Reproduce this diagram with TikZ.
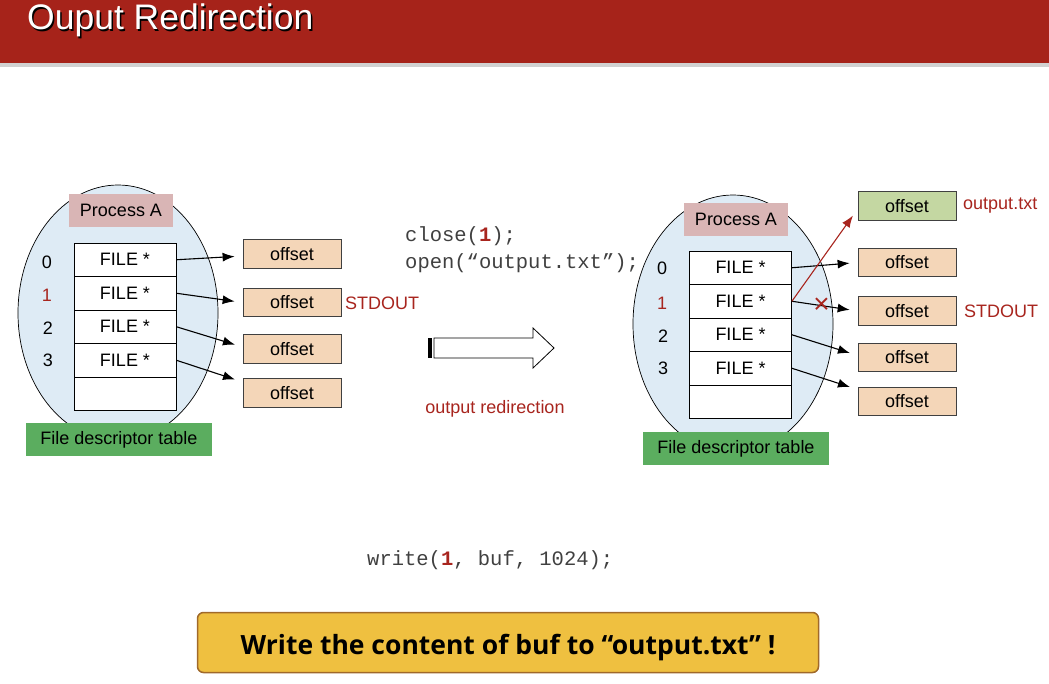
\documentclass[tikz,border=0pt]{standalone}
\usepackage{fontspec}
\setmainfont{Liberation Sans}
\newfontfamily\codefont{Liberation Mono}
\newfontfamily\notefont{Open Sans}
\usetikzlibrary{positioning, arrows.meta}

\definecolor{titlered}{HTML}{A6231A}
\definecolor{fdred}{HTML}{A8251E}
\definecolor{fdblue}{HTML}{DEEBF5}
\definecolor{procpink}{HTML}{D9B5B5}
\definecolor{offpeach}{HTML}{F4D6B8}
\definecolor{offgreen}{HTML}{C4D7A2}
\definecolor{tabgreen}{HTML}{5BAD5F}
\definecolor{noteyellow}{HTML}{EFC040}
\definecolor{notebrown}{HTML}{A0692A}
\definecolor{codegray}{HTML}{404040}

\tikzset{
    lbl/.style={font=\fontsize{18}{21}\selectfont},
    fdrow/.style={draw, fill=white, line width=0.8pt, minimum width=102pt,
        minimum height=33.5pt, inner sep=0pt, lbl},
    offbox/.style={draw=black!75, fill=offpeach, line width=0.8pt,
        minimum width=98pt, minimum height=28.5pt, inner sep=0pt, lbl},
    procbox/.style={fill=procpink, minimum width=104pt, minimum height=33pt,
        inner sep=0pt, lbl},
    tabbox/.style={fill=tabgreen, minimum width=186pt, minimum height=33pt,
        inner sep=0pt, lbl},
    ptr/.style={-{Latex[length=12pt, width=9pt]}, line width=1.1pt, shorten >=8pt},
    code/.style={anchor=west, text=codegray, inner sep=0pt,
        font=\codefont\fontsize{20.5}{24}\selectfont},
}
\newcommand{\redone}{\textcolor{fdred}{\bfseries 1}}

\begin{document}
\begin{tikzpicture}[x=1pt, y=-1pt]
    \useasboundingbox (0,0) rectangle (1049,683);
    \fill[white] (0,0) rectangle (1049,683);

    % 1. Title bar
    \fill[black!18] (0,63) rectangle (1049,67);
    \fill[titlered] (0,0) rectangle (1049,63);
    \node[anchor=west, inner sep=0pt, text=black, font=\fontsize{35.5}{40}\selectfont]
        at (28.5,22) {Ouput Redirection};
    \node[anchor=west, inner sep=0pt, text=white, font=\fontsize{35.5}{40}\selectfont]
        (title) at (27,20.5) {Ouput Redirection};

    % 2. Left process
    \draw[fill=fdblue, line width=0.7pt] (118,313) ellipse [x radius=100, y radius=128];
    \node[procbox] (lproc) at (121,210.5) {Process A};
    \foreach \i/\y in {0/259.75, 1/293.25, 2/326.75, 3/360.25} {
        \node[fdrow] (l\i) at (125,\y) {FILE *};
    }
    \node[fdrow] (l4) at (125,393.75) {};
    \node[lbl] (ln0) at (47,262) {0};
    \node[lbl, text=fdred] (ln1) at (47,295) {1};
    \node[lbl] (ln2) at (48,328) {2};
    \node[lbl] (ln3) at (48,360) {3};
    \node[tabbox] (ltab) at (119,439.5) {File descriptor table};

    \node[offbox] (lo0) at (292,254) {offset};
    \node[offbox] (lo1) at (292,302.5) {offset};
    \node[offbox] (lo2) at (292,349) {offset};
    \node[offbox] (lo3) at (292,393) {offset};
    \node[lbl, text=fdred, anchor=west, inner sep=0pt] (lstd) at (345,303) {STDOUT};

    \draw[ptr] (l0.east) -- ([yshift=-2pt]lo0.west);
    \draw[ptr] (l1.east) -- (lo1.west);
    \draw[ptr] (l2.east) -- ([yshift=2pt]lo2.west);
    \draw[ptr] (l3.east) -- ([yshift=11pt]lo3.west);

    % 3. Middle: code and hollow arrow
    \node[code] (close) at (405,236) {close(\redone);};
    \node[code] (open) at (405,263) {open(“output.txt”);};
    \draw[fill=white, line width=0.8pt] (434,338) -- (533,338) -- (533,328)
        -- (554,348) -- (533,368) -- (533,358) -- (434,358) -- cycle;
    \fill[black] (428,338) rectangle (432,358);
    \node[lbl, text=fdred] (redir) at (495,409) {output redirection};

    % 4. Right process
    \draw[fill=fdblue, line width=0.7pt] (733,324) ellipse [x radius=100, y radius=129];
    \node[procbox] (rproc) at (736,219.5) {Process A};
    \foreach \i/\y in {0/267.75, 1/301.25, 2/334.75, 3/368.25} {
        \node[fdrow] (r\i) at (740.5,\y) {FILE *};
    }
    \node[fdrow] (r4) at (740.5,401.75) {};
    \node[lbl] (rn0) at (662,268) {0};
    \node[lbl, text=fdred] (rn1) at (662,303) {1};
    \node[lbl] (rn2) at (663,336) {2};
    \node[lbl] (rn3) at (663,368) {3};
    \node[tabbox] (rtab) at (736,448.5) {File descriptor table};

    \node[offbox, fill=offgreen] (rgo) at (907,206) {offset};
    \node[offbox] (ro0) at (907,262.5) {offset};
    \node[offbox] (ro1) at (907,311) {offset};
    \node[offbox] (ro2) at (907,357.5) {offset};
    \node[offbox] (ro3) at (907,401.5) {offset};
    \node[lbl, text=fdred, anchor=west, inner sep=0pt] (rtxt) at (963,206) {output.txt};
    \node[lbl, text=fdred, anchor=west, inner sep=0pt] (rstd) at (964,311) {STDOUT};

    \draw[ptr] (r0.east) -- (ro0.west);
    \draw[ptr] (r1.east) -- (ro1.west)
        node[pos=0.45, text=fdred, font=\fontsize{28}{28}\selectfont] {×};
    \draw[ptr] (r2.east) -- ([yshift=2pt]ro2.west);
    \draw[ptr] (r3.east) -- ([yshift=12pt]ro3.west);
    \draw[ptr, fdred] (r1.east) -- ([yshift=-3pt]rgo.west);

    % 5. Bottom
    \node[code] (write) at (367,560) {write(\redone, buf, 1024);};
    \node[draw=notebrown, line width=1.5pt, fill=noteyellow, rounded corners=6pt,
        minimum width=621pt, minimum height=60pt, text height=26pt, text depth=3pt,
        font=\notefont\bfseries\fontsize{26.5}{30}\selectfont] (note) at (508,642.5)
        {Write the content of buf to “output.txt” !};
\end{tikzpicture}
\end{document}
